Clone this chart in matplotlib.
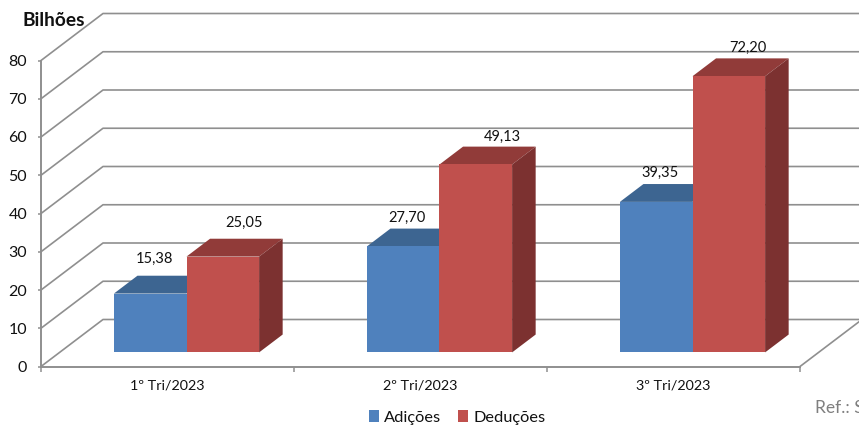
import matplotlib
matplotlib.use('Agg')
import matplotlib.pyplot as plt
from matplotlib.patches import Polygon, Patch

plt.rcParams['font.family'] = ['Lato', 'DejaVu Sans']

categories = ['1º Tri/2023', '2º Tri/2023', '3º Tri/2023']
adicoes = [15.38, 27.70, 39.35]
deducoes = [25.05, 49.13, 72.20]
y_ticks = [0, 10, 20, 30, 40, 50, 60, 70, 80]

W, H = 859, 425
# plot area of the front plane, in pixels
LEFT, RIGHT, BOTTOM, TOP = 41, 800, 366.5, 60.5

GRID = '#8f8f8f'
BLUE = ('#4f81bd', '#3d6591')
RED = ('#c0504d', '#913b39', '#7c3130')

fig = plt.figure(figsize=(W / 100, H / 100), dpi=100)
ax = fig.add_axes([LEFT / W, 1 - BOTTOM / H, (RIGHT - LEFT) / W, (BOTTOM - TOP) / H])
ax.set_xlim(0, 3)
ax.set_ylim(0, 80)

x_px = (RIGHT - LEFT) / 3
y_px = (BOTTOM - TOP) / 80
# depth of the 3D box in data units
DX = 62 / x_px
DY = 47 / y_px
BAR_W = 72.6 / x_px
BAR_START = 54.3 / x_px
D0, D1 = 0.30, 0.68


def shift(x, y, d):
    return (x + DX * d, y + DY * d)


def draw_bar(x, value, colors, side=None):
    a = shift(x, 0, D0)
    b = shift(x + BAR_W, 0, D0)
    c = shift(x + BAR_W, value, D0)
    d = shift(x, value, D0)
    e = shift(x, value, D1)
    f = shift(x + BAR_W, value, D1)
    g = shift(x + BAR_W, 0, D1)
    ax.add_patch(Polygon([d, c, f, e], fc=colors[1], ec='none', clip_on=False, zorder=3))
    if side:
        ax.add_patch(Polygon([b, g, f, c], fc=side, ec='none', clip_on=False, zorder=3))
    ax.add_patch(Polygon([a, b, c, d], fc=colors[0], ec='none', clip_on=False, zorder=4))


# walls
for v in y_ticks:
    ax.plot([0, DX, 3 + DX], [v, v + DY, v + DY], color=GRID, lw=1.2, clip_on=False, zorder=1)
ax.plot([3, 3 + DX], [0, DY], color=GRID, lw=1.2, clip_on=False, zorder=1)

# bars
for i in range(3):
    draw_bar(i + BAR_START, adicoes[i], BLUE)
    draw_bar(i + BAR_START + BAR_W, deducoes[i], RED[:2], RED[2])

# data labels, offsets from the front top centre of each bar in pixels
blue_off = [(4, 35), (3.5, 29), (4, 28.5)]
red_off = [(21.5, 33.5), (27, 28), (19, 28.5)]
for i in range(3):
    for vals, off, k in ((adicoes, blue_off, 0), (deducoes, red_off, 1)):
        x, y = shift(i + BAR_START + BAR_W * (k + 0.5), vals[i], D0)
        ax.annotate(f'{vals[i]:.2f}'.replace('.', ','), (x, y),
                    xytext=(off[i][0] * 0.72, off[i][1] * 0.72), textcoords='offset points',
                    ha='center', va='center', fontsize=10.5, color='#111111',
                    annotation_clip=False, zorder=5)

# axes
for s in ('top', 'right'):
    ax.spines[s].set_visible(False)
for s in ('left', 'bottom'):
    ax.spines[s].set_color(GRID)
    ax.spines[s].set_linewidth(1.4)
ax.set_yticks(y_ticks)
ax.set_xticks([0, 1, 2, 3])
ax.set_xticklabels([])
ax.set_xticks([0.5, 1.5, 2.5], minor=True)
ax.set_xticklabels(categories, minor=True, fontsize=10.4)
ax.tick_params(axis='x', which='major', length=3.5, width=1.1, color=GRID)
ax.tick_params(axis='x', which='minor', length=0, pad=9, labelcolor='#111111')
ax.tick_params(axis='y', length=2.5, width=1.1, color=GRID, pad=7.5, labelsize=11.5, labelcolor='#111111')

fig.text(23 / W, 1 - 20 / H, 'Bilhões', fontsize=13.8, fontweight='bold', va='center', color='#111111')
fig.text(815 / W, 1 - 408 / H, 'Ref.: S', fontsize=12.5, va='center', color='#7f7f7f')

handles = [Patch(fc=BLUE[0], label='Adições'), Patch(fc=RED[0], label='Deduções')]
fig.legend(handles=handles, loc='center', bbox_to_anchor=(457 / W, 1 - 417.5 / H), ncol=2, frameon=False,
           fontsize=11.8, handlelength=0.62, handleheight=0.7, handletextpad=0.3, columnspacing=1.05,
           labelcolor='#111111', borderpad=0)

fig.savefig('out.png', dpi=100)
